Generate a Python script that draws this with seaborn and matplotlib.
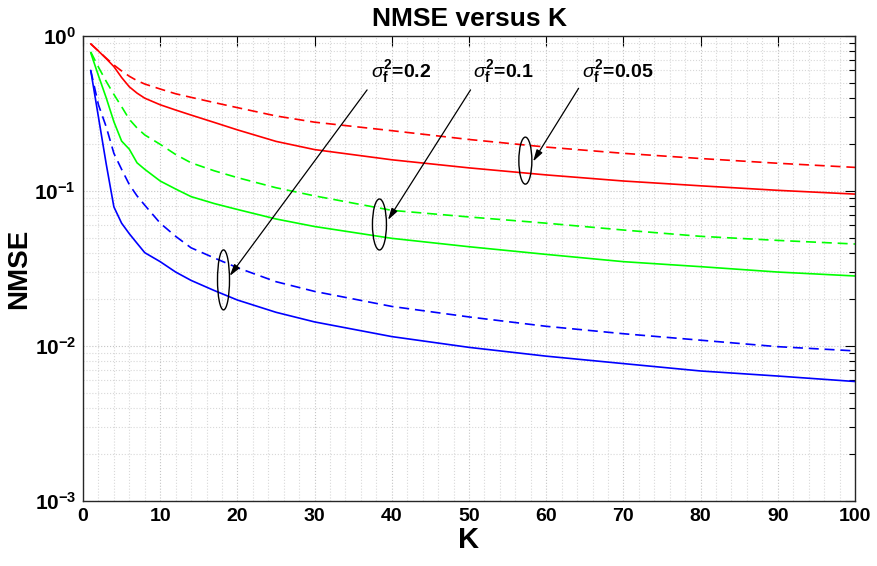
import numpy as np
import pandas as pd
import matplotlib.pyplot as plt
import seaborn as sns
from matplotlib.patches import Ellipse
from matplotlib.ticker import MultipleLocator, LogLocator, NullFormatter

# ---- data ----
K = [1, 2, 3, 4, 5, 6, 7, 8, 10, 12, 14, 17, 20, 25, 30, 40, 50, 60, 70, 80, 90, 100]

# sigma_f^2 = 0.05 (red)
red_solid = [0.89, 0.80, 0.715, 0.635, 0.54, 0.47, 0.428, 0.397, 0.36, 0.333, 0.309,
             0.277, 0.248, 0.209, 0.185, 0.159, 0.141, 0.127, 0.116, 0.108, 0.101, 0.0955]
red_dashed = [0.89, 0.80, 0.72, 0.65, 0.595, 0.55, 0.515, 0.49, 0.455, 0.424, 0.402,
              0.372, 0.345, 0.305, 0.278, 0.245, 0.215, 0.192, 0.175, 0.162, 0.151, 0.142]
# sigma_f^2 = 0.1 (green)
green_solid = [0.78, 0.555, 0.40, 0.28, 0.21, 0.186, 0.152, 0.138, 0.116, 0.103, 0.092,
               0.083, 0.076, 0.066, 0.059, 0.0495, 0.0437, 0.039, 0.035, 0.0325, 0.030, 0.0283]
green_dashed = [0.79, 0.63, 0.51, 0.42, 0.35, 0.29, 0.255, 0.23, 0.20, 0.172, 0.152,
                0.135, 0.122, 0.105, 0.093, 0.075, 0.068, 0.062, 0.056, 0.051, 0.048, 0.0455]
# sigma_f^2 = 0.2 (blue)
blue_solid = [0.60, 0.30, 0.15, 0.079, 0.062, 0.053, 0.046, 0.040, 0.035, 0.030, 0.0265,
              0.0228, 0.0198, 0.0165, 0.0143, 0.0115, 0.0098, 0.0086, 0.0077, 0.0069, 0.0064, 0.0059]
blue_dashed = [0.60, 0.36, 0.26, 0.175, 0.138, 0.11, 0.093, 0.081, 0.062, 0.051, 0.043,
               0.037, 0.032, 0.026, 0.0225, 0.018, 0.0154, 0.0134, 0.012, 0.0109, 0.0099, 0.0093]

x_ticks = list(range(0, 101, 10))
y_ticks = [1e-3, 1e-2, 1e-1, 1e0]
y_tick_labels = [r'$\mathbf{10^{-3}}$', r'$\mathbf{10^{-2}}$', r'$\mathbf{10^{-1}}$', r'$\mathbf{10^{0}}$']

# annotations: label, text K, text y, ellipse K, ellipse y, arrow tip K, arrow tip y, tail K, tail y
notes = [
    (r'$\sigma_{\mathbf{f}}^{\mathbf{2}}$=0.2', 37.3, 0.544, 18.2, 0.0267, 19.0, 0.0283, 36.8, 0.449),
    (r'$\sigma_{\mathbf{f}}^{\mathbf{2}}$=0.1', 50.5, 0.544, 38.4, 0.0608, 39.5, 0.065, 50.2, 0.449),
    (r'$\sigma_{\mathbf{f}}^{\mathbf{2}}$=0.05', 64.6, 0.544, 57.3, 0.157, 58.3, 0.155, 64.2, 0.46),
]
ellipse_px = [(12, 60), (14, 51), (13, 47)]

rows = []
for sig, kind, vals in [("0.05", "solid", red_solid), ("0.05", "dashed", red_dashed),
                        ("0.1", "solid", green_solid), ("0.1", "dashed", green_dashed),
                        ("0.2", "solid", blue_solid), ("0.2", "dashed", blue_dashed)]:
    for k, v in zip(K, vals):
        rows.append({"K": k, "NMSE": v, "sigma": sig, "kind": kind})
df = pd.DataFrame(rows)

sns.set_style("white")
plt.rcParams['font.family'] = ['Liberation Sans', 'DejaVu Sans']
plt.rcParams['text.color'] = 'black'
plt.rcParams['axes.labelcolor'] = 'black'
plt.rcParams['xtick.color'] = 'black'
plt.rcParams['ytick.color'] = 'black'
plt.rcParams['mathtext.fontset'] = 'custom'
plt.rcParams['mathtext.rm'] = 'Liberation Sans:bold'
plt.rcParams['mathtext.bf'] = 'Liberation Sans:bold'
plt.rcParams['mathtext.it'] = 'Liberation Sans:italic'

fig, ax = plt.subplots(figsize=(8.77, 5.66), dpi=100)
fig.subplots_adjust(left=83/877, right=855/877, bottom=1-501/566, top=1-36/566)

sns.lineplot(data=df, x="K", y="NMSE", hue="sigma", style="kind",
             hue_order=["0.05", "0.1", "0.2"], style_order=["solid", "dashed"],
             palette=["#ff0000", "#00ff00", "#0000ff"],
             dashes={"solid": "", "dashed": (6, 3.5)},
             linewidth=1.2, estimator=None, sort=False, legend=False, ax=ax)

ax.set_yscale("log")
ax.set_xlim(0, 100)
ax.set_ylim(1e-3, 1)
ax.set_xticks(x_ticks)
ax.set_xticklabels([str(t) for t in x_ticks])
ax.xaxis.set_minor_locator(MultipleLocator(2))
ax.set_yticks(y_ticks)
ax.set_yticklabels(y_tick_labels)
ax.yaxis.set_minor_locator(LogLocator(base=10, subs=np.arange(2, 10)))
ax.yaxis.set_minor_formatter(NullFormatter())

ax.grid(which="major", ls=":", color="#c4c4c4", lw=0.8)
ax.grid(which="minor", ls=":", color="#d8d8d8", lw=0.8)
ax.tick_params(which="both", direction="in", top=True, right=True, width=0.8)
ax.tick_params(which="major", length=7, pad=5)
ax.tick_params(axis="x", which="major", labelsize=14)
ax.tick_params(axis="y", which="major", labelsize=15)
ax.tick_params(axis="y", which="minor", length=4)
ax.tick_params(axis="x", which="minor", length=0)
for lab in ax.get_xticklabels():
    lab.set_fontweight("bold")
for sp in ax.spines.values():
    sp.set_color("#262626")
    sp.set_linewidth(1.0)

ax.set_title("NMSE versus K", fontsize=19, fontweight="bold", pad=7)
ax.set_xlabel("K", fontsize=21, fontweight="bold", labelpad=1)
ax.set_ylabel("NMSE", fontsize=20, fontweight="bold")
ax.yaxis.set_label_coords(-0.066, 0.5)

for (label, tx, ty, ex, ey, ax_tip, ay_tip, ax_tail, ay_tail), (w, h) in zip(notes, ellipse_px):
    ax.text(tx, ty, label, fontsize=14, fontweight="bold", va="baseline", ha="left")
    cx, cy = ax.transData.transform((ex, ey))
    ell = Ellipse((cx, cy), w, h, transform=None, fill=False, ec="black", lw=1.0, zorder=5)
    ax.add_artist(ell)
    ax.annotate("", xy=(ax_tip, ay_tip), xytext=(ax_tail, ay_tail),
                arrowprops=dict(arrowstyle="-|>,head_length=0.7,head_width=0.2",
                                color="black", lw=0.9, shrinkA=0, shrinkB=0))

fig.savefig("out.png", dpi=100)
